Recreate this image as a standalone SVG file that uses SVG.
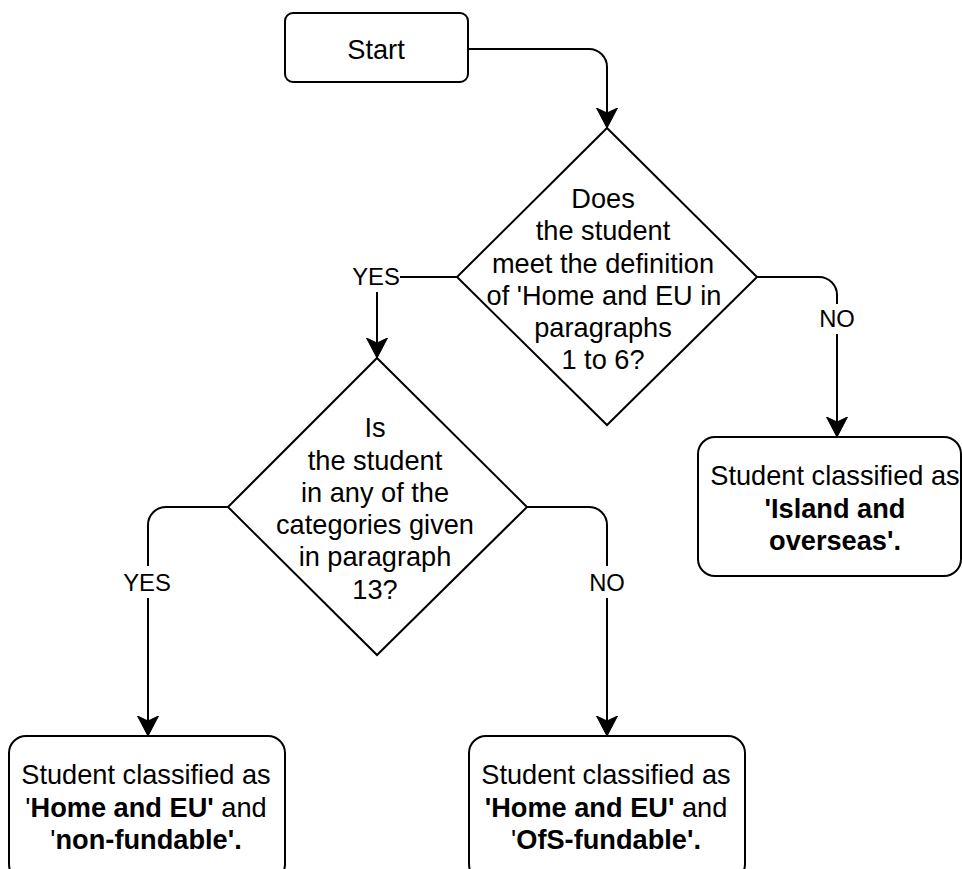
<svg xmlns="http://www.w3.org/2000/svg" width="962" height="869" viewBox="0 0 962 869">
<style>
.shape{fill:#fff;stroke:#000;stroke-width:2}
.conn{fill:none;stroke:#000;stroke-width:2}
.t{font-family:"Liberation Sans",Arial,sans-serif;font-size:27.2px;fill:#000;text-anchor:middle}
.lbl{font-family:"Liberation Sans",Arial,sans-serif;font-size:23.8px;fill:#000;text-anchor:middle}
.b{font-weight:bold}
.bg{fill:#fff;stroke:none}
</style>
<defs>
<marker id="arr" markerUnits="userSpaceOnUse" viewBox="0 -12 22 24" refX="20" refY="0" markerWidth="22" markerHeight="24" orient="auto">
<path d="M0,-10.5 L20,0 L0,10.5 L5,0 Z" fill="#000" stroke="#000" stroke-width="1"/>
</marker>
</defs>
<g id="connectors">
<path class="conn" d="M468,49 H589 A18,18 0 0 1 607,67 V128" marker-end="url(#arr)"/>
<path class="conn" d="M457,277 H377 V358" marker-end="url(#arr)"/>
<path class="conn" d="M757,277 H819 A18,18 0 0 1 837,295 V437" marker-end="url(#arr)"/>
<path class="conn" d="M228,507 H166 A18,18 0 0 0 148,525 V736" marker-end="url(#arr)"/>
<path class="conn" d="M527,507 H589 A18,18 0 0 1 607,525 V736" marker-end="url(#arr)"/>
<g id="labels">
<rect class="bg" x="350" y="264" width="50" height="28"/>
<text class="lbl" x="376" y="285">YES</text>
<rect class="bg" x="820" y="304" width="34" height="30"/>
<text class="lbl" x="837" y="327">NO</text>
<rect class="bg" x="122" y="566" width="52" height="32"/>
<text class="lbl" x="147" y="591">YES</text>
<rect class="bg" x="589" y="566" width="36" height="32"/>
<text class="lbl" x="607" y="591">NO</text>
</g>
</g>
<g id="start">
<rect class="shape" x="285" y="13" width="183" height="69" rx="8"/>
<text class="t" x="376" y="58.5">Start</text>
</g>
<g id="decision1">
<polygon class="shape" points="607,128 757,277 607,425 457,277"/>
<text class="t" x="603" y="208">Does</text>
<text class="t" x="603" y="240.3">the student</text>
<text class="t" x="603" y="272.6">meet the definition</text>
<text class="t" x="604" y="305">of 'Home and EU in</text>
<text class="t" x="603" y="337">paragraphs</text>
<text class="t" x="603" y="369">1 to 6?</text>
</g>
<g id="decision2">
<polygon class="shape" points="377,358 527,507 377,655 228,507"/>
<text class="t" x="375" y="437">Is</text>
<text class="t" x="375" y="469.5">the student</text>
<text class="t" x="375" y="502">in any of the</text>
<text class="t" x="375" y="534">categories given</text>
<text class="t" x="375" y="566">in paragraph</text>
<text class="t" x="375" y="598.5">13?</text>
</g>
<g id="island">
<rect class="shape" x="698" y="437" width="263" height="139" rx="17"/>
<text class="t" x="835" y="485">Student classified as</text>
<text class="t b" x="835" y="517.5">'Island and</text>
<text class="t b" x="835" y="550">overseas'.</text>
</g>
<g id="nonfundable">
<rect class="shape" x="9" y="736" width="276" height="145" rx="17"/>
<text class="t" x="146" y="784.3">Student classified as</text>
<text class="t" x="146" y="816.7">'<tspan class="b">Home and EU'</tspan> and</text>
<text class="t" x="146" y="848.5">'<tspan class="b">non-fundable'.</tspan></text>
</g>
<g id="ofsfundable">
<rect class="shape" x="469" y="736" width="276" height="145" rx="17"/>
<text class="t" x="606" y="784.3">Student classified as</text>
<text class="t" x="606" y="816.7"><tspan class="b">'Home and EU'</tspan> and</text>
<text class="t" x="606" y="848.5">'<tspan class="b">OfS-fundable'.</tspan></text>
</g>
</svg>
